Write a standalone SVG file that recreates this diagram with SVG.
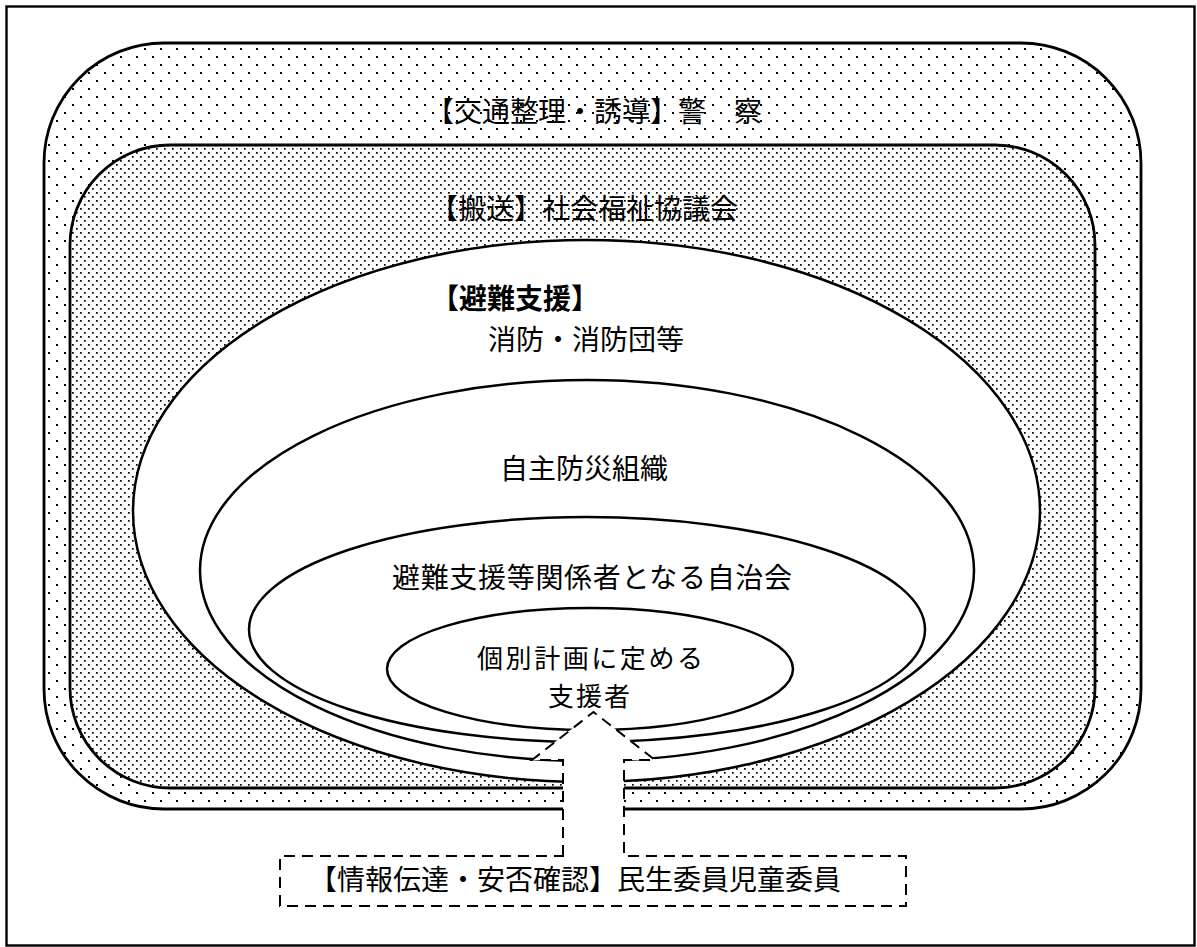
<svg xmlns="http://www.w3.org/2000/svg" width="1197" height="947" viewBox="0 0 1197 947">
<defs>
<pattern id="sparse" width="16" height="16" patternUnits="userSpaceOnUse">
<rect x="0" y="0" width="2" height="2" fill="#000"/>
<rect x="8" y="8" width="2" height="2" fill="#000"/>
</pattern>
<pattern id="dense" width="8" height="8" patternUnits="userSpaceOnUse">
<rect x="0" y="0" width="1.7" height="1.7" fill="#000"/>
<rect x="4" y="4" width="1.7" height="1.7" fill="#000"/>
</pattern>
<style>
.ring{stroke:#000;stroke-width:2.8;}
.ell{fill:#fff;stroke:#000;stroke-width:2.5;}
.t{font-family:"Noto Sans CJK JP","Noto Sans CJK SC",sans-serif;font-size:28px;fill:#000;}
.s{font-size:26px;}
.b{font-weight:bold;}
.dash{fill:#fff;stroke:#000;stroke-width:2;stroke-dasharray:11 7;}
</style>
</defs>
<rect x="0" y="0" width="1197" height="947" fill="#fff"/>
<rect id="frame" x="6.5" y="6.5" width="1188" height="939" fill="none" stroke="#000" stroke-width="2.4"/>
<g id="police">
<rect x="44" y="43" width="1097" height="766" rx="120" ry="120" fill="#fff"/>
<rect x="44" y="43" width="1097" height="766" rx="120" ry="120" fill="url(#sparse)" class="ring"/>
<text class="t" x="594" y="122" text-anchor="middle">【交通整理・誘導】警　察</text>
</g>
<g id="welfare">
<rect x="70" y="145" width="1025" height="643" rx="100" ry="100" fill="#fff"/>
<rect x="70" y="145" width="1025" height="643" rx="100" ry="100" fill="url(#dense)" class="ring"/>
<text class="t" x="584" y="219" text-anchor="middle">【搬送】社会福祉協議会</text>
</g>
<g id="fire">
<ellipse cx="586.5" cy="511" rx="453.5" ry="271" class="ell"/>
<text class="t b" x="431" y="309">【避難支援】</text>
<text class="t" x="586" y="350" text-anchor="middle">消防・消防団等</text>
</g>
<g id="bousai">
<ellipse cx="587" cy="570.5" rx="387" ry="190.5" class="ell"/>
<text class="t" x="584" y="479" text-anchor="middle">自主防災組織</text>
</g>
<g id="jichikai">
<ellipse cx="587" cy="629.5" rx="338" ry="112.5" class="ell"/>
<text class="t" x="592" y="588" text-anchor="middle" textLength="400" lengthAdjust="spacing">避難支援等関係者となる自治会</text>
</g>
<g id="shiensha">
<ellipse cx="590" cy="669" rx="203" ry="61" class="ell"/>
<text class="t s" x="590" y="668" text-anchor="middle" textLength="226" lengthAdjust="spacing">個別計画に定める</text>
<text class="t s" x="589" y="706" text-anchor="middle" textLength="82" lengthAdjust="spacing">支援者</text>
</g>
<g id="connectors">
<path class="dash" d="M563,856 L563,760 L532,760 L593.5,712 L655,760 L624,760 L624,856 L906,856 L906,906 L280,906 L280,856 Z"/>
</g>
<g id="minsei">
<text class="t" x="575" y="890" text-anchor="middle" font-size="29">【情報伝達・安否確認】民生委員児童委員</text>
</g>
</svg>
